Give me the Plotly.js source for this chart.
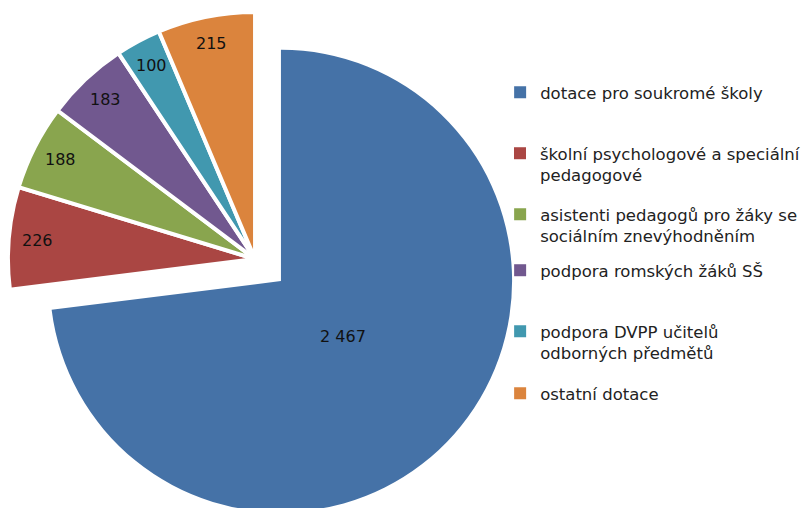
<!DOCTYPE html>
<html>
<head>
<meta charset="utf-8">
<script src="https://cdn.plot.ly/plotly-3.0.1.min.js"></script>
<style>
html,body{margin:0;padding:0;overflow:hidden;background:#fff;}
#chart{width:806px;height:540px;}
</style>
</head>
<body>
<div id="chart"></div>
<script>
const labels = [
  'dotace pro soukromé školy',
  'školní psychologové a speciální<br>pedagogové',
  'asistenti pedagogů pro žáky se<br>sociálním znevýhodněním',
  'podpora romských žáků SŠ',
  'podpora DVPP učitelů<br>odborných předmětů',
  'ostatní dotace'
];
const values = [2467, 226, 188, 183, 100, 215];
const valueText = ['2 467', '226', '188', '183', '100', '215'];
const colors = ['#4572A7', '#AA4643', '#89A54E', '#71588F', '#4198AF', '#DB843D'];
const legendRowCenters = [92, 153, 214, 270, 331, 393];

const W = 806, H = 540;
const clear = 'rgba(0,0,0,0)';
const font = 'DejaVu Sans, Verdana, sans-serif';
function dom(cx, cy, r) {
  return { x: [(cx - r) / W, (cx + r) / W], y: [(H - cy - r) / H, (H - cy + r) / H] };
}
// pie geometry (pixels)
const big = { cx: 282, cy: 281, r: 232 };
const small = { cx: 256, cy: 259, r: 248 };

const data = [];
// legend-only pies (zero size), one per legend box
labels.forEach((lab, i) => {
  data.push({
    type: 'pie', labels: [lab], values: [values[i]], sort: false,
    marker: { colors: [colors[i]], line: { width: 0 } },
    textinfo: 'none', hoverinfo: 'none', showlegend: true,
    legend: i === 0 ? 'legend' : 'legend' + (i + 1),
    domain: { x: [0.35, 0.3501], y: [0.5, 0.5001] }
  });
});
// exploded large slice
data.push({
  type: 'pie', labels: labels, values: values, sort: false, direction: 'clockwise', rotation: 0,
  marker: { colors: colors.map((c, i) => i === 0 ? c : clear), line: { width: 0 } },
  textinfo: 'none', hoverinfo: 'none', showlegend: false,
  domain: dom(big.cx, big.cy, big.r)
});
// remaining slices
data.push({
  type: 'pie', labels: labels, values: values, sort: false, direction: 'clockwise', rotation: 0,
  marker: { colors: colors.map((c, i) => i === 0 ? clear : c),
            line: { color: '#ffffff', width: values.map((v, i) => i === 0 ? 0 : 4) } },
  textinfo: 'none', hoverinfo: 'none', showlegend: false,
  domain: dom(small.cx, small.cy, small.r)
});

// data labels along slice bisectors
const total = values.reduce((a, b) => a + b, 0);
const annotations = [];
let cum = 0;
values.forEach((v, i) => {
  const mid = (cum + v / 2) / total * 2 * Math.PI;
  cum += v;
  const g = i === 0 ? big : small;
  const f = i === 0 ? 0.36 : 0.885;
  const px = g.cx + f * g.r * Math.sin(mid);
  const py = g.cy - f * g.r * Math.cos(mid);
  annotations.push({
    xref: 'paper', yref: 'paper', x: px / W, y: (H - py) / H,
    xanchor: 'center', yanchor: 'middle', showarrow: false,
    text: valueText[i], font: { family: font, size: 16, color: '#111' }
  });
});

const layout = {
  width: W, height: H,
  margin: { l: 0, r: 0, t: 0, b: 0 },
  paper_bgcolor: '#fff',
  font: { family: font, size: 16.5, color: '#222' },
  showlegend: true,
  annotations: annotations
};
legendRowCenters.forEach((c, i) => {
  layout[i === 0 ? 'legend' : 'legend' + (i + 1)] = {
    x: 502 / W, xanchor: 'left', y: (H - (c - 17)) / H, yanchor: 'top',
    valign: 'top', bgcolor: 'rgba(0,0,0,0)',
    font: { family: font, size: 16.5, color: '#222' }
  };
});
Plotly.newPlot('chart', data, layout, { displayModeBar: false, staticPlot: true });
</script>
</body>
</html>
